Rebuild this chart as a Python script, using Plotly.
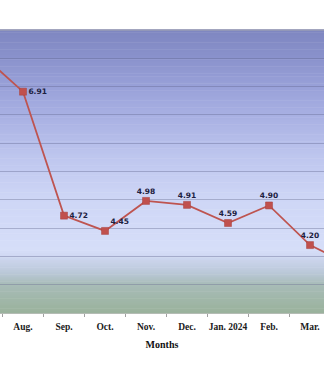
import plotly.graph_objects as go

# Monthly values (Jul. 2023 – Apr. 2024)
months = ["Jul.", "Aug.", "Sep.", "Oct.", "Nov.", "Dec.", "Jan. 2024", "Feb.", "Mar.", "Apr."]
values = [7.56, 6.91, 4.72, 4.45, 4.98, 4.91, 4.59, 4.90, 4.20, 3.84]
# Which points carry a value label, and where it sits relative to the marker
show_label = [False, True, True, True, True, True, True, True, True, False]
label_positions = ["middle right", "middle right", "middle right", "top right", "top center",
                   "top center", "top center", "top center", "top center", "top center"]

# Vertical colour stops for the plot-area background (0 = top, 1 = bottom)
bg_stops = [
    (0.00, (126, 134, 192)),
    (0.10, (138, 146, 204)),
    (0.25, (160, 168, 222)),
    (0.45, (190, 198, 238)),
    (0.60, (206, 214, 246)),
    (0.78, (214, 222, 248)),
    (0.80, (208, 216, 242)),
    (0.86, (186, 200, 216)),
    (0.90, (168, 188, 184)),
    (1.00, (154, 178, 156)),
]


def stop_color(t):
    for (t0, c0), (t1, c1) in zip(bg_stops[:-1], bg_stops[1:]):
        if t0 <= t <= t1:
            f = 0 if t1 == t0 else (t - t0) / (t1 - t0)
            r, g, b = (round(a + (b_ - a) * f) for a, b_ in zip(c0, c1))
            return f"rgb({r},{g},{b})"
    return "rgb(%d,%d,%d)" % bg_stops[-1][1]


shapes = []
n_bands = 200
for i in range(n_bands):
    t_top = i / n_bands
    t_bot = (i + 1) / n_bands
    shapes.append(dict(
        type="rect", xref="x domain", yref="y domain",
        x0=0, x1=1, y0=1 - t_bot, y1=1 - t_top + 0.002,
        fillcolor=stop_color((t_top + t_bot) / 2),
        line=dict(width=0), layer="below",
    ))

# top border of the plot area
shapes.append(dict(type="line", xref="x domain", yref="y domain",
                   x0=0, x1=1, y0=1, y1=1,
                   line=dict(color="#9a9cb4", width=1.5), layer="above"))

fig = go.Figure()
fig.add_trace(go.Scatter(
    x=months, y=values,
    mode="lines+markers+text",
    line=dict(color="#be5450", width=1.8),
    marker=dict(symbol="square", size=7, color="#c0504d",
                line=dict(color="#a8403c", width=0.5)),
    texttemplate=["%{y:.2f}" if s else "" for s in show_label],
    textposition=label_positions,
    textfont=dict(family="DejaVu Sans", size=7.5, color="#1c2040", weight="bold"),
    cliponaxis=True,
    hoverinfo="skip",
))

fig.update_layout(
    width=324, height=374,
    margin=dict(l=0, r=0, t=30, b=61),
    paper_bgcolor="white",
    plot_bgcolor="rgba(0,0,0,0)",
    showlegend=False,
    shapes=shapes,
    xaxis=dict(
        type="category",
        range=[0.439, 8.341],
        tickson="boundaries",
        tickangle=0,
        ticks="outside", ticklen=3, tickcolor="#a0a0a0", tickwidth=1,
        ticklabelstandoff=5,
        showgrid=False, zeroline=False,
        showline=True, linecolor="#b4bcb4", linewidth=1,
        tickfont=dict(family="Liberation Serif", size=9.5, color="#202020", weight="bold"),
        title=dict(text="Months", standoff=9,
                   font=dict(family="Liberation Serif", size=10, color="#101010", weight="bold")),
    ),
    yaxis=dict(
        range=[3, 8], dtick=0.5,
        showticklabels=False, ticks="",
        showgrid=True, gridcolor="rgba(95,100,140,0.38)", gridwidth=1,
        zeroline=False, showline=False,
    ),
)

fig.write_html("out.html")
